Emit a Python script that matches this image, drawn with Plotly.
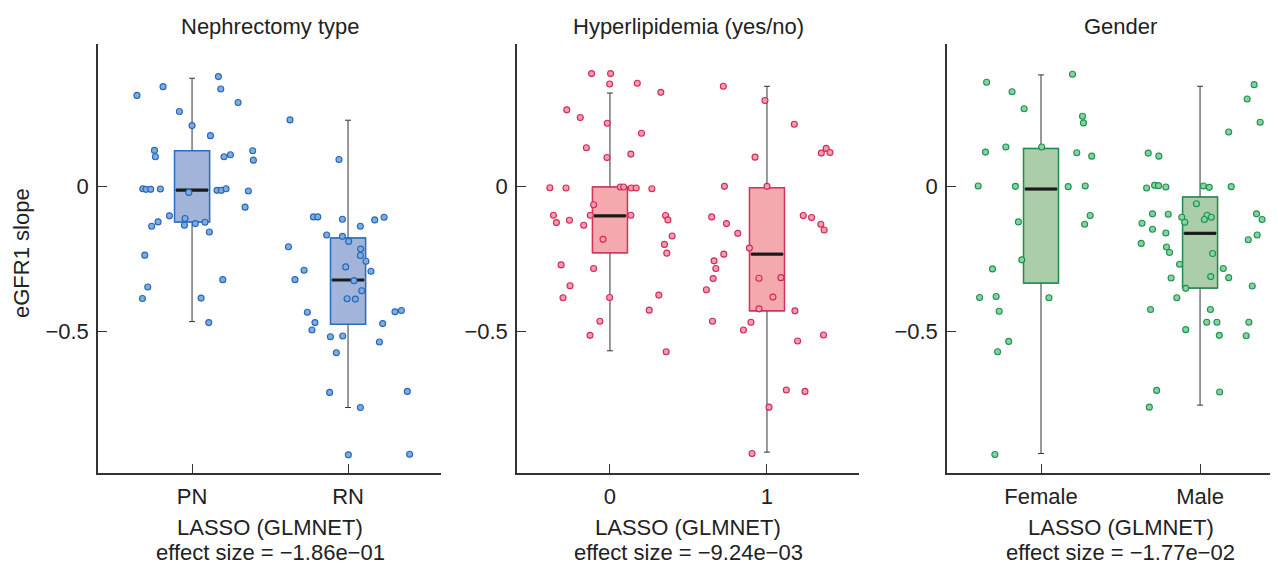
import plotly.graph_objects as go

# ---------------- data ----------------
panel_titles = ["Nephrectomy type", "Hyperlipidemia (yes/no)", "Gender"]
categories = [["PN", "RN"], ["0", "1"], ["Female", "Male"]]
effect_sizes = ["\u22121.86e\u221201", "\u22129.24e\u221203", "\u22121.77e\u221202"]
y_title = "eGFR1 slope"

# box statistics per panel: [cat0, cat1]
q1 = [[-0.1238, -0.4769], [-0.2303, -0.4306], [-0.3345, -0.3519]]
med = [[-0.0139, -0.3241], [-0.1030, -0.2350], [-0.0104, -0.1632]]
q3 = [[0.1215, -0.1794], [-0.0035, -0.0058], [0.1296, -0.0382]]
lowf = [[-0.4676, -0.7639], [-0.5683, -0.9178], [-0.9225, -0.7558]]
upf = [[0.3715, 0.2269], [0.3206, 0.3438], [0.3831, 0.3438]]

# points: (jitter offset, value)
pn_jit = [-0.353, -0.186, 0.169, 0.184, 0.295, -0.081, 0.000, 0.118, -0.241, -0.235, 0.205, 0.246, 0.389, 0.393,
          -0.316, -0.295, -0.265, -0.203, -0.021, 0.160, 0.188, 0.218, 0.361, 0.340, -0.145, -0.045, -0.218, -0.259,
          -0.049, 0.021, 0.083, 0.111, -0.303, 0.197, -0.284, -0.318, 0.058, 0.107]
pn_val = [0.3125, 0.3426, 0.3773, 0.3345, 0.2882, 0.2569, 0.2083, 0.1736, 0.1227, 0.1007, 0.1007, 0.1076, 0.1215, 0.0891,
          -0.0093, -0.0116, -0.0116, -0.0104, -0.0220, -0.0150, -0.0150, -0.0093, -0.0174, -0.0729, -0.1030, -0.1123,
          -0.1238, -0.1389, -0.1354, -0.1296, -0.1250, -0.1586, -0.2384, -0.3229, -0.3484, -0.3877, -0.3866, -0.4711]
rn_jit = [-0.372, -0.058, -0.222, -0.194, -0.036, 0.171, 0.231, 0.079, -0.137, -0.036, 0.004, -0.382, 0.081, 0.079,
          0.115, -0.015, -0.282, 0.147, -0.340, 0.038, 0.088, -0.006, 0.047, -0.261, -0.212, -0.231, 0.301, 0.342,
          0.222, -0.113, -0.034, 0.201, -0.075, -0.118, 0.380, 0.079, 0.002, 0.395]
rn_val = [0.2280, 0.0914, -0.1065, -0.1065, -0.1146, -0.1169, -0.1076, -0.1389, -0.1690, -0.1736, -0.1910, -0.2095,
          -0.2176, -0.2396, -0.2593, -0.2789, -0.2905, -0.2940, -0.3229, -0.3264, -0.3611, -0.3889, -0.3900, -0.4352,
          -0.4711, -0.4965, -0.4340, -0.4294, -0.4745, -0.5197, -0.5174, -0.5382, -0.5752, -0.7118, -0.7083, -0.7639,
          -0.9271, -0.9248]
h0_jit = [-0.117, 0.004, -0.002, 0.174, 0.324, -0.275, -0.189, -0.017, 0.201, -0.150, -0.019, 0.133, -0.383, -0.280,
          0.066, 0.087, 0.136, 0.167, 0.267, -0.104, -0.360, -0.125, 0.133, 0.354, -0.341, -0.258, -0.167, 0.369,
          0.396, -0.044, 0.347, 0.362, -0.311, -0.104, -0.254, -0.299, -0.002, 0.311, 0.250, -0.064, -0.127, 0.358]
h0_val = [0.3877, 0.3877, 0.3519, 0.3542, 0.3229, 0.2627, 0.2361, 0.2164, 0.1817, 0.1319, 0.0984, 0.1100, -0.0058,
          -0.0069, -0.0035, -0.0035, -0.0069, -0.0069, -0.0093, -0.0648, -0.1007, -0.1007, -0.1007, -0.1019, -0.1262,
          -0.1181, -0.1354, -0.1169, -0.1725, -0.1840, -0.2014, -0.2315, -0.2720, -0.2847, -0.3438, -0.3854, -0.3843,
          -0.3762, -0.4282, -0.4664, -0.5150, -0.5718]
h1_jit = [-0.278, -0.013, 0.174, -0.076, 0.346, 0.377, 0.401, -0.271, 0.000, -0.352, -0.258, -0.186, 0.231, 0.284,
          0.343, 0.364, -0.112, -0.275, -0.337, -0.326, -0.343, -0.051, 0.089, -0.386, 0.038, -0.051, 0.178, -0.347,
          -0.102, -0.150, 0.195, 0.360, 0.123, 0.242, 0.013, -0.095]
h1_val = [0.3438, 0.2951, 0.2130, 0.0995, 0.1134, 0.1296, 0.1157, -0.0012, -0.0012, -0.1065, -0.1296, -0.1632, -0.1019,
          -0.1088, -0.1319, -0.1516, -0.2141, -0.2350, -0.2581, -0.2847, -0.3194, -0.3183, -0.3160, -0.3576, -0.3831,
          -0.4236, -0.4306, -0.4664, -0.4699, -0.4965, -0.5347, -0.5139, -0.7037, -0.7083, -0.7627, -0.9225]
f_jit = [-0.342, -0.182, -0.106, 0.198, 0.261, 0.267, -0.349, -0.221, 0.004, 0.225, 0.319, -0.395, -0.161, 0.171,
         0.278, -0.142, 0.309, 0.274, -0.121, -0.305, -0.386, -0.282, 0.050, -0.263, -0.203, -0.273, -0.290]
f_val = [0.3576, 0.3252, 0.2662, 0.3854, 0.2407, 0.2176, 0.1169, 0.1343, 0.1343, 0.1146, 0.1030, 0.0000, -0.0012,
         -0.0023, 0.0000, -0.1238, -0.1019, -0.1319, -0.2546, -0.2859, -0.3843, -0.3808, -0.3854, -0.4317, -0.5359,
         -0.5718, -0.9259]
m_jit = [0.340, 0.296, 0.378, 0.180, -0.326, -0.259, -0.336, -0.286, -0.261, -0.215, 0.021, 0.058, 0.196, -0.023,
         -0.299, -0.200, -0.115, -0.096, 0.044, 0.071, 0.027, -0.365, -0.299, -0.215, 0.355, 0.390, 0.303, 0.359,
         -0.370, -0.211, -0.192, 0.079, -0.129, 0.146, 0.180, -0.182, 0.067, -0.090, 0.328, -0.146, -0.311, 0.065,
         0.042, 0.106, 0.307, -0.090, 0.121, 0.290, -0.273, 0.123, -0.319]
m_val = [0.3495, 0.2998, 0.2199, 0.1863, 0.1134, 0.1030, -0.0069, 0.0023, 0.0012, -0.0035, 0.0000, -0.0046, -0.0023,
         -0.0613, -0.0961, -0.0972, -0.1076, -0.1250, -0.1007, -0.1076, -0.1157, -0.1285, -0.1493, -0.1620, -0.0961,
         -0.1157, -0.1852, -0.1690, -0.1979, -0.2106, -0.2292, -0.2326, -0.2697, -0.2847, -0.3160, -0.3171, -0.3125,
         -0.3530, -0.3449, -0.3854, -0.4259, -0.4259, -0.4699, -0.4699, -0.4699, -0.4954, -0.5150, -0.5162, -0.7049,
         -0.7106, -0.7627]

points = [[(pn_jit, pn_val), (rn_jit, rn_val)],
          [(h0_jit, h0_val), (h1_jit, h1_val)],
          [(f_jit, f_val), (m_jit, m_val)]]

# ---------------- styling ----------------
box_fill = ["#a3b4da", "#f4a9ae", "#abcdaa"]
box_line = ["#2a6ebf", "#d43259", "#1f8c4e"]
pt_fill = ["#7aaee2", "#f49bb0", "#86d3a0"]
pt_line = ["#2a64b4", "#cc2a55", "#1f914f"]

# the page body has an 8px margin: figure is sized/offset to compensate
OFF = 8
W, H = 1278 - OFF, 564 - OFF


def px_x(v):
    return (v - OFF) / W


def px_y(v):
    return 1 - (v - OFF) / H


x_dom = [[px_x(98), px_x(441)], [px_x(517), px_x(859)], [px_x(947), 1.0]]
x_rng = [[-0.603, 1.596], [-0.592, 1.586], [-0.591, 1.49]]
box_w = [0.225, 0.223, 0.22]
y_dom = [px_y(473), px_y(44)]
y_rng = [-0.9897, 0.4897]
FONT = "Liberation Sans, Arial, sans-serif"
FS = 22
TXT = "#222222"
AX = "#333333"

fig = go.Figure()
for p in range(3):
    xa = "x" if p == 0 else f"x{p + 1}"
    ya = "y" if p == 0 else f"y{p + 1}"
    pos = [0, 1]
    # whiskers (black, thin)
    fig.add_trace(go.Box(x=pos, q1=q1[p], median=med[p], q3=q3[p], lowerfence=lowf[p], upperfence=upf[p],
                         width=box_w[p], whiskerwidth=0.17, boxpoints=False,
                         line=dict(color=AX, width=1), fillcolor="rgba(0,0,0,0)",
                         xaxis=xa, yaxis=ya, showlegend=False, hoverinfo="skip"))
    # coloured box body
    fig.add_trace(go.Box(x=pos, q1=q1[p], median=med[p], q3=q3[p], lowerfence=q1[p], upperfence=q3[p],
                         width=box_w[p], whiskerwidth=0, boxpoints=False,
                         line=dict(color=box_line[p], width=1.5), fillcolor=box_fill[p],
                         xaxis=xa, yaxis=ya, showlegend=False, hoverinfo="skip"))
    # median bars
    for c in range(2):
        hw = box_w[p] / 2
        fig.add_trace(go.Scatter(x=[c - hw + 0.01, c + hw - 0.01], y=[med[p][c], med[p][c]], mode="lines",
                                 line=dict(color="#1a1a1a", width=3.2), xaxis=xa, yaxis=ya,
                                 showlegend=False, hoverinfo="skip"))
    # jittered points
    for c in range(2):
        jit, val = points[p][c]
        fig.add_trace(go.Scatter(x=[c + j for j in jit], y=val, mode="markers",
                                 marker=dict(size=6, color=pt_fill[p], line=dict(color=pt_line[p], width=1.1)),
                                 xaxis=xa, yaxis=ya, showlegend=False, hoverinfo="skip"))

layout = dict(width=W, height=H, paper_bgcolor="white", plot_bgcolor="white",
              margin=dict(l=0, r=0, t=0, b=0, pad=0), font=dict(family=FONT, size=FS, color=TXT),
              showlegend=False)
for p in range(3):
    xk = "xaxis" if p == 0 else f"xaxis{p + 1}"
    yk = "yaxis" if p == 0 else f"yaxis{p + 1}"
    ya = "y" if p == 0 else f"y{p + 1}"
    xa = "x" if p == 0 else f"x{p + 1}"
    layout[xk] = dict(domain=x_dom[p], range=x_rng[p], anchor=ya, showgrid=False, zeroline=False,
                      showline=True, linecolor=AX, linewidth=1.5, ticks="inside", ticklen=9, tickwidth=1.3,
                      tickcolor=AX, tickvals=[0, 1], ticktext=categories[p], ticklabelstandoff=3,
                      tickfont=dict(family=FONT, size=FS, color=TXT), fixedrange=True)
    layout[yk] = dict(domain=y_dom, range=y_rng, anchor=xa, showgrid=False, zeroline=False,
                      showline=True, linecolor=AX, linewidth=1.5, ticks="inside", ticklen=9, tickwidth=1.3,
                      tickcolor=AX, tickvals=[0, -0.5], ticktext=["0", "\u22120.5"], ticklabelstandoff=3,
                      tickfont=dict(family=FONT, size=FS, color=TXT), fixedrange=True)
fig.update_layout(**layout)

fig.add_annotation(text=y_title, xref="paper", yref="paper", x=px_x(22), y=px_y(253), textangle=-90,
                   showarrow=False, font=dict(family=FONT, size=FS, color=TXT),
                   xanchor="center", yanchor="middle")

for p in range(3):
    xa = "x" if p == 0 else f"x{p + 1}"
    fig.add_annotation(text=panel_titles[p], xref=xa, yref="paper", x=0.5, y=px_y(26),
                       showarrow=False, font=dict(family=FONT, size=FS, color=TXT),
                       xanchor="center", yanchor="middle")
    fig.add_annotation(text="LASSO (GLMNET)", xref=xa, yref="paper", x=0.5, y=px_y(527),
                       showarrow=False, font=dict(family=FONT, size=FS, color=TXT),
                       xanchor="center", yanchor="middle")
    fig.add_annotation(text="effect size = " + effect_sizes[p], xref=xa, yref="paper", x=0.5, y=px_y(552),
                       showarrow=False, font=dict(family=FONT, size=FS, color=TXT),
                       xanchor="center", yanchor="middle")

fig.write_html("out.html")
